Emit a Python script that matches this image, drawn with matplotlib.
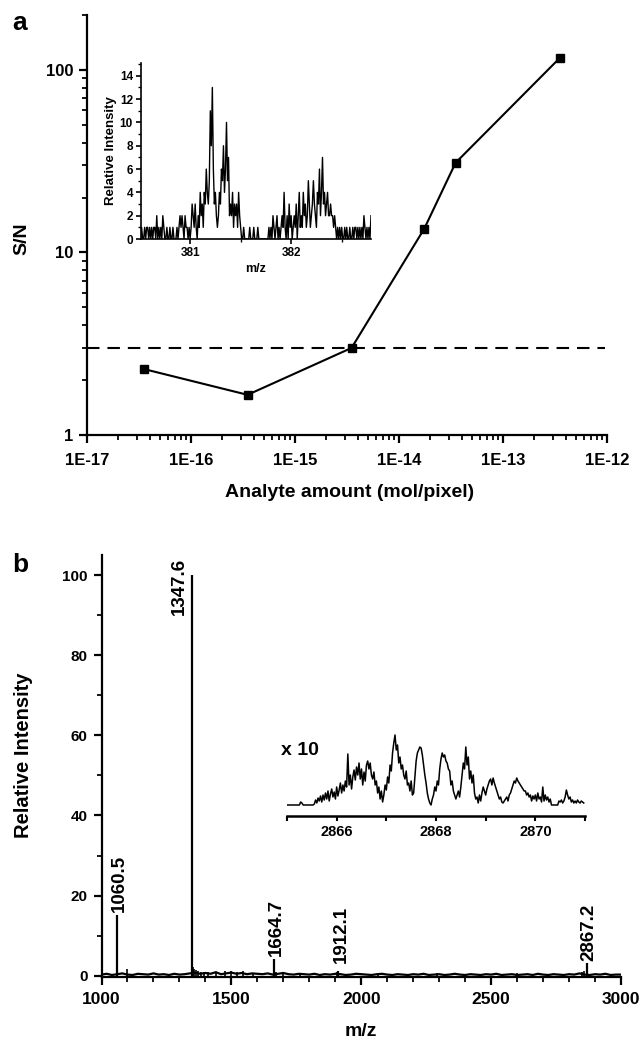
import numpy as np
import matplotlib
matplotlib.use("Agg")
import matplotlib.pyplot as plt
from matplotlib.ticker import (LogLocator, NullFormatter, MultipleLocator,
                               FuncFormatter, FixedLocator)

plt.rcParams['font.family'] = ['Liberation Sans', 'DejaVu Sans']
plt.rcParams['font.weight'] = 'bold'

# ---------------- data : panel a ----------------
amount = [3.5e-17, 3.5e-16, 3.5e-15, 1.75e-14, 3.5e-14, 3.5e-13]
sn = [2.3, 1.66, 3.0, 13.5, 31.0, 116.0]
lod_sn = 3.0
x_decades = [1e-17, 1e-16, 1e-15, 1e-14, 1e-13, 1e-12]

# inset a : relative intensity (start 380.50, step 0.01 m/z)
inset_a_start = 380.50
inset_a_step = 0.01
inset_a_int = [
    1, 0, 1, 0, 0, 1, 0, 1, 1, 0,
    1, 0, 1, 0, 1, 1, 0, 2, 0, 1,
    0, 1, 0, 2, 1, 0, 0, 1, 0, 0,
    1, 0, 0, 1, 0, 0, 0, 1, 0, 1,
    2, 1, 2, 1, 0, 2, 1, 1, 0, 1,
    0, 1, 3, 2, 1, 3, 1, 0, 2, 1,
    4, 2, 3, 1, 4, 3, 6, 4, 3, 5,
    11, 8, 13, 6, 3, 4, 2, 1, 2, 4,
    3, 6, 5, 8, 4, 6, 10, 5, 7, 2,
    3, 2, 4, 1, 3, 2, 3, 1, 4, 2,
    1, 0, 0, 1, 0, 0, 0, 0, 0, 1,
    0, 0, 0, 1, 0, 0, 0, 1, 0, 0,
    0, 0, 0, 0, 0, 0, 0, 0, 1, 0,
    1, 0, 2, 1, 0, 1, 2, 0, 1, 0,
    1, 2, 1, 4, 1, 0, 2, 0, 3, 1,
    2, 0, 1, 2, 1, 3, 0, 2, 4, 1,
    2, 1, 4, 2, 3, 1, 2, 5, 3, 1,
    2, 3, 5, 3, 2, 1, 4, 3, 6, 2,
    4, 7, 3, 4, 2, 3, 4, 2, 2, 3,
    2, 2, 1, 2, 1, 0, 1, 0, 1, 0,
    1, 0, 0, 1, 0, 1, 0, 0, 1, 0,
    0, 1, 0, 1, 1, 0, 1, 0, 1, 0,
    1, 0, 2, 1, 0, 1, 0, 1, 0, 2,
]

# ---------------- data : panel b ----------------
base_start = 1000
base_step = 20
base_int = [
    0.3, 0.5, 0.2, 0.4, 0.6, 0.3, 0.2, 0.5, 0.4, 0.3,
    0.6, 0.3, 0.4, 0.2, 0.5, 0.3, 0.4, 0.6, 0.8, 0.5,
    0.7, 0.5, 0.9, 0.4, 0.6, 0.8, 0.5, 0.7, 0.4, 0.6,
    0.5, 0.4, 0.6, 0.3, 0.5, 0.7, 0.4, 0.3, 0.5, 0.4,
    0.3, 0.5, 0.2, 0.4, 0.3, 0.5, 0.4, 0.2, 0.3, 0.5,
    0.4, 0.3, 0.2, 0.4, 0.5, 0.3, 0.2, 0.4, 0.3, 0.2,
    0.4, 0.3, 0.5, 0.2, 0.3, 0.4, 0.2, 0.3, 0.5, 0.3,
    0.2, 0.4, 0.3, 0.2, 0.4, 0.3, 0.5, 0.2, 0.3, 0.4,
    0.2, 0.3, 0.4, 0.2, 0.5, 0.3, 0.2, 0.4, 0.3, 0.2,
    0.4, 0.3, 0.6, 0.3, 0.2, 0.4, 0.3, 0.5, 0.2, 0.3,
    0.3,
]
minor_mz = [1100, 1349.8, 1354, 1358, 1363, 1370, 1382, 1395, 1410, 1440, 1475,
            1500, 1520, 1545, 1585, 1672, 1700, 1765, 1905, 2065, 2290, 2600,
            2850, 2858]
minor_int = [1.6, 87.0, 2.2, 1.8, 1.5, 1.2, 1.0, 0.9, 1.0, 0.8, 1.1,
             1.3, 1.0, 1.2, 0.8, 1.0, 0.8, 0.7, 0.9, 0.8, 0.6, 0.6,
             0.9, 1.3]
peak_mz = [1060.5, 1347.6, 1664.7, 1912.1, 2867.2]
peak_int = [15.2, 100.0, 4.3, 1.3, 3.2]
peak_labels = ['1060.5', '1347.6', '1664.7', '1912.1', '2867.2']

# inset b : x10 zoom of isotope cluster (start 2865.0, step 0.025 m/z)
inset_b_start = 2865.0
inset_b_step = 0.025
inset_b_int = [
    0, 0, 0, 0, 0, 0, 0, 0,
    0, 0, 0, 3, 2, 0, 0, 0,
    0, 0, 0, 0, 0, 0, 1, 5,
    2, 7, 4, 9, 3, 10, 5, 12,
    6, 14, 4, 11, 16, 8, 13, 6,
    18, 9, 15, 22, 12, 20, 14, 24,
    18, 51, 20, 30, 16, 28, 35, 25,
    38, 30, 42, 26, 36, 20, 33, 24,
    40, 44, 36, 42, 30, 26, 33, 20,
    24, 12, 18, 6, 14, 3, 10, 20,
    15, 28, 22, 40, 34, 52, 62, 70,
    55, 60, 42, 48, 36, 40, 30, 26,
    34, 20, 22, 14, 24, 10, 12, 28,
    44, 52, 55, 58, 57, 50, 40, 30,
    22, 12, 6, 2, 0, 6, 10, 18,
    14, 24, 20, 36, 46, 52, 48, 50,
    44, 42, 36, 34, 20, 24, 14, 10,
    6, 10, 14, 8, 18, 30, 42, 36,
    58, 40, 48, 26, 34, 22, 30, 12,
    6, 8, 2, 10, 4, 12, 18, 14,
    10, 16, 20, 24, 26, 20, 27, 22,
    18, 14, 10, 6, 8, 3, 2, 4,
    6, 8, 4, 10, 12, 16, 20, 24,
    22, 27, 24, 22, 20, 18, 16, 14,
    14, 10, 12, 8, 10, 4, 9, 6,
    10, 4, 12, 6, 8, 3, 18, 4,
    10, 5, 8, 3, 6, 0, 0, 0,
    0, 0, 0, 4, 3, 5, 2, 4,
    8, 15, 10, 6, 8, 3, 5, 2,
    4, 2, 5, 3, 2, 4, 3, 2,
]

# ---------------- figure ----------------
W, H = 641, 1040
fig = plt.figure(figsize=(W / 100, H / 100), dpi=100)


def px_axes(l, t, r, b):
    return fig.add_axes([l / W, 1 - b / H, (r - l) / W, (b - t) / H])


def style_main(ax, lw=1.6):
    for s in ['top', 'right']:
        ax.spines[s].set_visible(False)
    for s in ['left', 'bottom']:
        ax.spines[s].set_linewidth(lw)
    ax.tick_params(which='major', direction='out', length=6, width=lw, pad=4)
    ax.tick_params(which='minor', direction='out', length=3.5, width=lw * 0.8)


# ---- panel a ----
axa = px_axes(87, 15, 607, 435)
axa.set_xscale('log')
axa.set_yscale('log')
axa.set_xlim(1e-17, 1e-12)
axa.set_ylim(1, 200)
style_main(axa)
axa.plot(amount, sn, color='black', lw=1.5, marker='s', ms=6,
         mfc='black', mec='black', zorder=3)
axa.plot([1e-17, 9.5e-13], [lod_sn, lod_sn], color='black', lw=1.5,
         dashes=(6, 3.8))
axa.xaxis.set_major_locator(FixedLocator(x_decades))
minor_x = [m * d for d in x_decades[:-1] for m in range(2, 10)]
axa.xaxis.set_minor_locator(FixedLocator(minor_x))
axa.xaxis.set_minor_formatter(NullFormatter())
axa.xaxis.set_major_formatter(FuncFormatter(
    lambda v, p: "1E%d" % int(round(np.log10(v)))))
axa.yaxis.set_major_locator(FixedLocator([1, 10, 100]))
minor_y = [m * d for d in [1, 10, 100] for m in range(2, 10) if m * d <= 200]
axa.yaxis.set_minor_locator(FixedLocator(minor_y))
axa.yaxis.set_minor_formatter(NullFormatter())
axa.yaxis.set_major_formatter(FuncFormatter(lambda v, p: "%g" % v))
axa.tick_params(axis='x', labelsize=12, pad=7)
axa.tick_params(axis='y', labelsize=12)
axa.set_xlabel('Analyte amount (mol/pixel)', fontsize=14, fontweight='bold')
axa.xaxis.set_label_coords((350 - 87) / 520, (435 - 492) / 420)
axa.xaxis.label.set_va('center')
axa.set_ylabel('S/N', fontsize=14, fontweight='bold')
axa.yaxis.set_label_coords((22 - 87) / 520, (435 - 239) / 420)
axa.yaxis.label.set_va('center')

# inset a
axi = px_axes(140.6, 63, 371, 239)
axi.patch.set_alpha(0)
x_ia = inset_a_start + inset_a_step * np.arange(len(inset_a_int))
axi.plot(x_ia, inset_a_int, color='black', lw=1.0)
axi.set_xlim(380.51, 382.79)
axi.set_ylim(0, 15.1)
style_main(axi, lw=1.2)
axi.tick_params(which='major', length=3.5, pad=2, labelsize=8.5)
axi.tick_params(which='minor', length=2)
axi.xaxis.set_major_locator(FixedLocator([381, 382]))
axi.xaxis.set_minor_locator(FixedLocator([381.5, 382.5]))
axi.yaxis.set_major_locator(FixedLocator([0, 2, 4, 6, 8, 10, 12, 14]))
axi.yaxis.set_minor_locator(FixedLocator([1, 3, 5, 7, 9, 11, 13, 15]))
axi.set_xlabel('m/z', fontsize=9, fontweight='bold', labelpad=3)
axi.set_ylabel('Relative Intensity', fontsize=9.5, fontweight='bold', labelpad=2)

# ---- panel b ----
axb = px_axes(101.5, 555, 621, 977)
axb.set_xlim(1000, 3000)
axb.set_ylim(-0.3, 105)
style_main(axb)
x_base = base_start + base_step * np.arange(len(base_int))
axb.plot(x_base, base_int, color='black', lw=1.6)
axb.vlines(minor_mz, 0, minor_int, color='black', lw=1.2)
axb.vlines(peak_mz, 0, peak_int, color='black', lw=1.6)
axb.xaxis.set_major_locator(FixedLocator([1000, 1500, 2000, 2500, 3000]))
axb.xaxis.set_minor_locator(FixedLocator(list(range(1100, 3000, 100))))
axb.yaxis.set_major_locator(FixedLocator([0, 20, 40, 60, 80, 100]))
axb.yaxis.set_minor_locator(FixedLocator([10, 30, 50, 70, 90]))
axb.tick_params(axis='x', labelsize=12.5, pad=5)
axb.tick_params(axis='y', labelsize=11)
axb.set_xlabel('m/z', fontsize=14, fontweight='bold')
axb.xaxis.set_label_coords((361 - 101.5) / 519.5, (977 - 1031) / 422)
axb.xaxis.label.set_va('center')
axb.set_ylabel('Relative Intensity', fontsize=14.5, fontweight='bold')
axb.yaxis.set_label_coords((23.5 - 101.5) / 519.5, (977 - 755) / 422)
axb.yaxis.label.set_va('center')

for mz, h, lab in zip(peak_mz, peak_int, peak_labels):
    if h >= 90:
        axb.text(mz - 47, 104.3, lab, rotation=90, ha='center', va='top',
                 fontsize=13.5, fontweight='bold')
    else:
        axb.text(mz + 10, max(h + 0.6, 3.2), lab, rotation=90, ha='center',
                 va='bottom', fontsize=13.5, fontweight='bold')

# inset b
axj = px_axes(287, 730, 585, 816)
axj.patch.set_alpha(0)
x_ib = inset_b_start + inset_b_step * np.arange(len(inset_b_int))
axj.plot(x_ib, inset_b_int, color='black', lw=1.1)
axj.set_xlim(2865, 2871)
axj.set_ylim(-11, 75)
for s in ['top', 'right', 'left']:
    axj.spines[s].set_visible(False)
axj.spines['bottom'].set_linewidth(1.8)
axj.set_yticks([])
axj.xaxis.set_major_locator(FixedLocator([2865, 2866, 2867, 2868, 2869, 2870, 2871]))
axj.xaxis.set_major_formatter(FuncFormatter(
    lambda v, p: "%d" % v if int(round(v)) % 2 == 0 else ""))
axj.tick_params(axis='x', direction='out', length=3.5, width=1.5, pad=3,
                labelsize=10.5)

fig.text(281 / W, 1 - 755 / H, 'x 10', fontsize=14, fontweight='bold',
         ha='left', va='baseline')

# panel letters
fig.text(12 / W, 1 - 30 / H, 'a', fontsize=19, fontweight='bold',
         ha='left', va='baseline')
fig.text(12 / W, 1 - 572 / H, 'b', fontsize=19, fontweight='bold',
         ha='left', va='baseline')

fig.savefig('out.png', dpi=100)
